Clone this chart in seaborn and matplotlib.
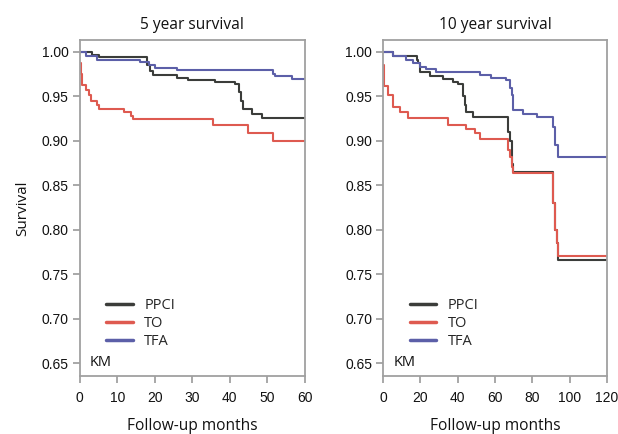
import numpy as np
import pandas as pd
import matplotlib
matplotlib.use("Agg")
import matplotlib.pyplot as plt
import seaborn as sns

# curvas Kaplan-Meier (meses, supervivencia)
ppci_5y_t = [0, 3.4, 5.2, 18.0, 18.8, 19.5, 26, 29, 36, 41.5, 42.5, 43.0, 43.5, 46, 48.5, 60]
ppci_5y_s = [0.999, 0.996, 0.994, 0.985, 0.978, 0.974, 0.970, 0.968, 0.966, 0.964, 0.955, 0.945, 0.935, 0.930, 0.925, 0.925]

to_5y_t = [0, 0.3, 0.7, 1.6, 2.5, 3.0, 4.7, 5.2, 11.9, 13.7, 14.2, 35.5, 44.9, 51.6, 60]
to_5y_s = [0.987, 0.975, 0.962, 0.957, 0.951, 0.944, 0.940, 0.936, 0.932, 0.928, 0.924, 0.917, 0.908, 0.900, 0.900]

tfa_5y_t = [0, 1.6, 4.7, 16, 18.5, 20, 26, 51.6, 52, 56.5, 60]
tfa_5y_s = [0.999, 0.995, 0.991, 0.988, 0.985, 0.982, 0.979, 0.975, 0.973, 0.969, 0.969]

ppci_10y_t = [0, 5.4, 17.9, 18.8, 19.7, 25, 32, 37.6, 40.3, 43, 44, 44.7, 48.3, 67.1, 68, 68.9, 69.8,
              91.3, 92, 93, 94, 120]
ppci_10y_s = [0.999, 0.995, 0.990, 0.987, 0.977, 0.972, 0.969, 0.966, 0.9635, 0.950, 0.940, 0.932, 0.927,
              0.910, 0.900, 0.874, 0.865, 0.830, 0.800, 0.785, 0.766, 0.766]

to_10y_t = [0, 0.5, 2.7, 5.4, 9, 13.4, 35, 44.7, 49, 52, 67.1, 68, 68.9, 69.8, 91.3, 92, 93, 94, 120]
to_10y_s = [0.985, 0.961, 0.951, 0.938, 0.932, 0.925, 0.917, 0.913, 0.908, 0.902, 0.890, 0.882, 0.870,
            0.864, 0.830, 0.800, 0.785, 0.770, 0.770]

tfa_10y_t = [0, 5.4, 12.5, 16, 19.7, 23, 28.6, 52, 58, 66, 68, 68.9, 69.8, 75, 82.3, 91.3, 92.2, 94, 120]
tfa_10y_s = [0.999, 0.995, 0.991, 0.987, 0.983, 0.980, 0.977, 0.974, 0.970, 0.968, 0.959, 0.951, 0.934,
             0.930, 0.927, 0.915, 0.895, 0.882, 0.882]

grupos = ["PPCI", "TO", "TFA"]
colores = {"PPCI": "#3b3d3a", "TO": "#de5a50", "TFA": "#5c5fa8"}
titulos = ["5 year survival", "10 year survival"]
y_ticks = [0.65, 0.70, 0.75, 0.80, 0.85, 0.90, 0.95, 1.00]
x_ticks = [[0, 10, 20, 30, 40, 50, 60], [0, 20, 40, 60, 80, 100, 120]]
x_max = [60, 120]


def armar_df(curvas):
    filas = []
    for grupo, (t, s) in curvas.items():
        for ti, si in zip(t, s):
            filas.append({"Meses": ti, "Supervivencia": si, "Grupo": grupo})
    return pd.DataFrame(filas)


df_5 = armar_df({"PPCI": (ppci_5y_t, ppci_5y_s), "TO": (to_5y_t, to_5y_s), "TFA": (tfa_5y_t, tfa_5y_s)})
df_10 = armar_df({"PPCI": (ppci_10y_t, ppci_10y_s), "TO": (to_10y_t, to_10y_s),
                  "TFA": (tfa_10y_t, tfa_10y_s)})

sns.set_style("white")
plt.rcParams['font.family'] = ['Open Sans', 'DejaVu Sans']

fig = plt.figure(figsize=(6.18, 4.34), dpi=100)
ax1 = fig.add_axes([0.129, 0.134, 0.364, 0.774])
ax2 = fig.add_axes([0.620, 0.134, 0.362, 0.774])

for i, (ax, df) in enumerate([(ax1, df_5), (ax2, df_10)]):
    sns.lineplot(data=df, x="Meses", y="Supervivencia", hue="Grupo", hue_order=grupos,
                 palette=colores, drawstyle="steps-post", estimator=None, linewidth=1.5,
                 ax=ax, legend=False)
    ax.set_xlim(0, x_max[i])
    ax.set_ylim(0.636, 1.013)
    ax.set_xticks(x_ticks[i])
    ax.set_yticks(y_ticks)
    ax.set_yticklabels([f"{v:.2f}" for v in y_ticks])
    ax.tick_params(axis="both", length=5, width=1.2, color="#999999", pad=3, labelcolor="#111111",
                   labelsize=10, labelfontfamily="Liberation Sans")
    ax.tick_params(axis="x", bottom=True, pad=6)
    ax.tick_params(axis="y", left=True)
    for sp in ax.spines.values():
        sp.set_color("#a0a0a0")
        sp.set_linewidth(1.3)
    ax.set_title(titulos[i], fontsize=11.2, pad=8, color="#111111")
    ax.set_xlabel("Follow-up months", fontsize=11.2, labelpad=9, color="#111111")
    ax.set_ylabel("")
    # leyenda sin marco
    handles = [plt.Line2D([], [], color=colores[g], linewidth=2.5) for g in grupos]
    ax.legend(handles, grupos, loc="lower left", bbox_to_anchor=(0.06, 0.04), frameon=False,
              fontsize=10.5, handlelength=1.8, handletextpad=0.8, labelspacing=0.22)
    ax.text(0.045, 0.028, "KM", transform=ax.transAxes, fontsize=10.5, color="#111111")

ax1.set_ylabel("Survival", fontsize=11, labelpad=8, color="#111111")

plt.savefig("out.png", dpi=100)
plt.close()
